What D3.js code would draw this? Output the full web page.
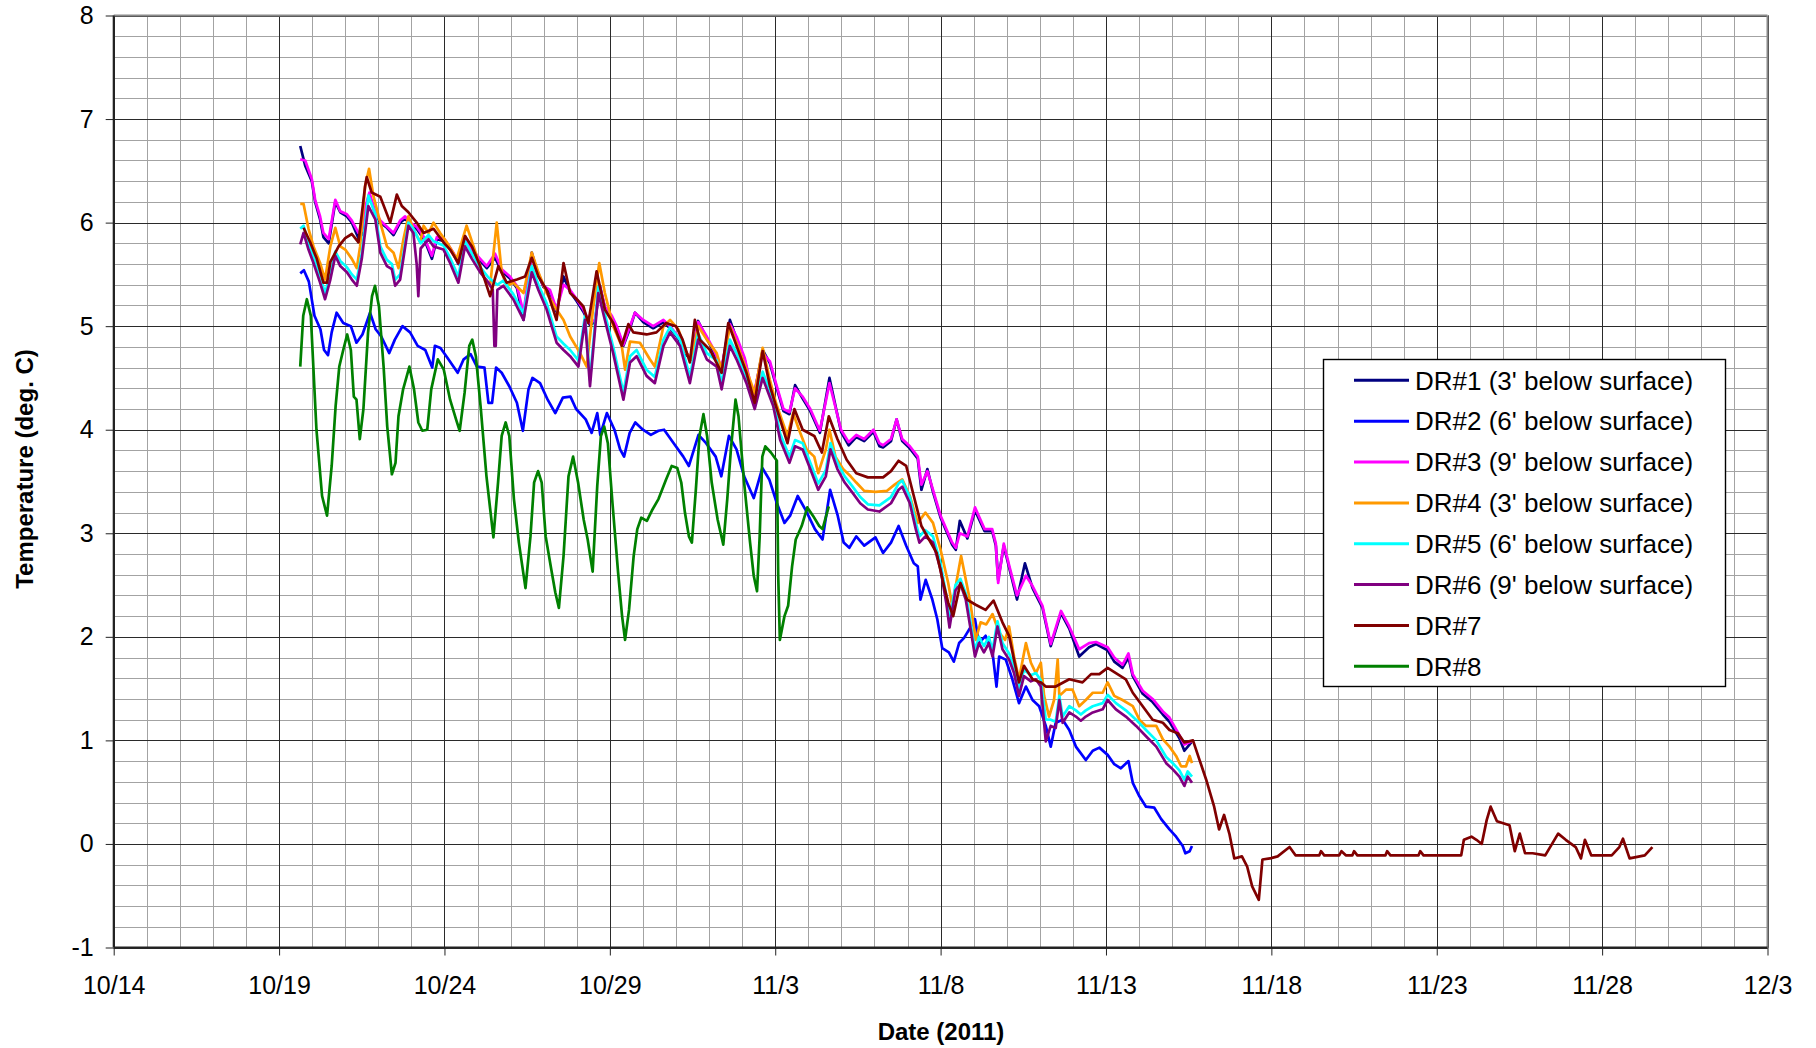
<!DOCTYPE html>
<html><head><meta charset="utf-8">
<script src="https://cdn.jsdelivr.net/npm/d3@7"></script>
<style>
html,body{margin:0;padding:0;background:#fff;}
svg{display:block;font-family:"Liberation Sans",Arial,Helvetica,sans-serif;}
</style>
</head><body>
<svg id="chart" width="1816" height="1048"></svg>
<script>
// ---------- DATA (time = day of October 2011; November d = 31 + d) ----------
const dr1 = [[19.64,6.74],[19.79,6.55],[19.99,6.4],[20.09,6.2],[20.24,6.03],[20.34,5.86],[20.5,5.8],[20.7,6.2],[20.85,6.1],[21.05,6.06],[21.2,6.0],[21.4,5.85],[21.5,5.88],[21.6,6.12],[21.73,6.27],[21.91,6.08],[22.06,6.0],[22.26,5.95],[22.46,5.88],[22.66,6.0],[22.81,6.04],[22.96,5.98],[23.16,5.94],[23.4,5.83],[23.62,5.65],[23.77,5.84],[24.0,5.82],[24.27,5.7],[24.42,5.6],[24.62,5.87],[24.83,5.73],[25.08,5.63],[25.28,5.56],[25.53,5.66],[25.73,5.53],[25.98,5.46],[26.19,5.37],[26.39,5.06],[26.64,5.71],[26.79,5.54],[26.99,5.38],[27.19,5.33],[27.39,5.14],[27.6,5.48],[27.8,5.33],[28.0,5.24],[28.2,5.14],[28.4,5.01],[28.55,5.04],[28.7,5.39],[28.85,5.18],[29.06,5.08],[29.21,4.98],[29.41,4.81],[29.61,4.98],[29.76,5.13],[30.01,5.04],[30.31,4.98],[30.62,5.04],[30.82,4.98],[31.07,4.88],[31.32,4.72],[31.47,4.68],[31.67,5.05],[31.93,4.88],[32.13,4.76],[32.38,4.58],[32.63,5.06],[32.83,4.88],[33.08,4.67],[33.34,4.29],[33.62,4.77],[33.84,4.64],[34.02,4.43],[34.25,4.18],[34.43,4.15],[34.6,4.43],[34.83,4.3],[35.06,4.18],[35.35,3.97],[35.64,4.5],[35.99,3.98],[36.22,3.85],[36.45,3.93],[36.69,3.89],[36.97,3.98],[37.15,3.84],[37.26,3.83],[37.5,3.89],[37.67,4.1],[37.84,3.89],[38.07,3.82],[38.31,3.72],[38.42,3.42],[38.6,3.62],[38.77,3.4],[39.0,3.15],[39.35,2.89],[39.46,2.84],[39.58,3.12],[39.81,2.95],[40.04,3.22],[40.33,3.02],[40.56,3.02],[40.67,2.88],[40.74,2.55],[40.91,2.88],[41.08,2.66],[41.31,2.36],[41.55,2.71],[41.78,2.47],[42.08,2.28],[42.33,1.91],[42.64,2.23],[42.89,2.08],[43.19,1.81],[43.49,1.9],[43.7,1.93],[44.05,1.87],[44.25,1.76],[44.5,1.7],[44.68,1.8],[44.81,1.62],[45.11,1.45],[45.41,1.37],[45.72,1.25],[45.92,1.18],[46.22,1.02],[46.37,0.9],[46.58,0.98]];

const dr2 = [[19.64,5.51],[19.75,5.54],[19.9,5.43],[20.07,5.1],[20.25,4.97],[20.36,4.77],[20.48,4.72],[20.59,4.94],[20.74,5.13],[20.94,5.03],[21.17,5.0],[21.34,4.84],[21.52,4.92],[21.75,5.13],[21.92,4.97],[22.09,4.9],[22.33,4.74],[22.5,4.87],[22.73,5.0],[22.96,4.94],[23.19,4.81],[23.42,4.77],[23.63,4.6],[23.71,4.81],[23.88,4.79],[24.12,4.68],[24.4,4.55],[24.58,4.68],[24.79,4.73],[24.98,4.61],[25.21,4.6],[25.33,4.26],[25.44,4.26],[25.56,4.6],[25.73,4.55],[25.96,4.42],[26.19,4.26],[26.37,3.99],[26.54,4.39],[26.66,4.5],[26.89,4.45],[27.12,4.29],[27.35,4.16],[27.58,4.31],[27.81,4.32],[27.98,4.2],[28.27,4.1],[28.45,3.97],[28.62,4.16],[28.71,3.95],[28.91,4.16],[29.14,4.0],[29.31,3.81],[29.43,3.74],[29.6,3.97],[29.77,4.07],[30.0,4.0],[30.24,3.95],[30.47,3.99],[30.64,4.0],[30.93,3.87],[31.22,3.74],[31.39,3.65],[31.68,3.95],[31.91,3.87],[32.2,3.74],[32.37,3.55],[32.6,3.94],[32.83,3.81],[33.06,3.55],[33.35,3.34],[33.61,3.63],[33.82,3.52],[34.05,3.29],[34.28,3.1],[34.45,3.17],[34.68,3.36],[34.91,3.23],[35.2,3.04],[35.43,2.94],[35.66,3.42],[35.89,3.17],[36.07,2.91],[36.24,2.86],[36.45,2.97],[36.69,2.88],[37.03,2.96],[37.26,2.81],[37.5,2.91],[37.73,3.07],[37.96,2.88],[38.19,2.71],[38.31,2.68],[38.39,2.36],[38.55,2.55],[38.75,2.36],[38.9,2.17],[39.05,1.89],[39.25,1.85],[39.4,1.76],[39.56,1.94],[39.71,1.99],[39.86,2.07],[40.04,2.17],[40.16,1.94],[40.36,2.01],[40.57,1.85],[40.69,1.52],[40.77,1.81],[40.97,1.78],[41.17,1.59],[41.37,1.36],[41.58,1.52],[41.78,1.39],[41.98,1.33],[42.18,1.14],[42.33,0.94],[42.48,1.17],[42.69,1.2],[42.89,1.1],[43.09,0.94],[43.39,0.81],[43.6,0.9],[43.8,0.93],[44.05,0.86],[44.25,0.77],[44.45,0.73],[44.68,0.8],[44.81,0.59],[45.01,0.46],[45.21,0.36],[45.46,0.35],[45.67,0.24],[45.92,0.14],[46.12,0.07],[46.32,-0.02],[46.4,-0.09],[46.53,-0.07],[46.6,-0.02]];

const dr3 = [[19.64,6.61],[19.79,6.6],[19.99,6.42],[20.09,6.22],[20.24,6.06],[20.34,5.9],[20.5,5.84],[20.7,6.22],[20.85,6.11],[21.05,6.08],[21.2,6.02],[21.4,5.9],[21.5,5.92],[21.6,6.14],[21.73,6.29],[21.91,6.1],[22.06,6.02],[22.26,5.96],[22.46,5.9],[22.66,6.02],[22.81,6.06],[22.96,6.0],[23.16,5.96],[23.4,5.85],[23.62,5.68],[23.77,5.86],[24.0,5.84],[24.27,5.71],[24.42,5.61],[24.62,5.86],[24.83,5.74],[25.08,5.65],[25.28,5.58],[25.53,5.7],[25.73,5.55],[25.98,5.48],[26.19,5.39],[26.39,5.13],[26.64,5.7],[26.79,5.55],[26.99,5.39],[27.19,5.35],[27.39,5.16],[27.6,5.4],[27.8,5.35],[28.0,5.26],[28.2,5.16],[28.4,5.03],[28.55,5.06],[28.7,5.38],[28.85,5.19],[29.06,5.1],[29.21,5.0],[29.41,4.82],[29.61,5.0],[29.76,5.13],[30.01,5.06],[30.31,5.0],[30.62,5.06],[30.82,5.0],[31.07,4.9],[31.32,4.74],[31.47,4.69],[31.67,5.04],[31.93,4.9],[32.13,4.78],[32.38,4.6],[32.63,5.02],[32.83,4.9],[33.08,4.69],[33.34,4.32],[33.62,4.74],[33.84,4.66],[34.02,4.45],[34.25,4.2],[34.43,4.17],[34.6,4.4],[34.83,4.32],[35.06,4.2],[35.35,3.99],[35.64,4.45],[35.99,4.0],[36.22,3.88],[36.45,3.95],[36.69,3.91],[36.97,4.0],[37.15,3.87],[37.26,3.85],[37.5,3.91],[37.67,4.1],[37.84,3.91],[38.07,3.84],[38.31,3.74],[38.42,3.47],[38.6,3.6],[38.77,3.42],[39.0,3.17],[39.35,2.91],[39.46,2.86],[39.58,3.0],[39.81,2.97],[40.04,3.25],[40.33,3.04],[40.56,3.04],[40.67,2.9],[40.74,2.52],[40.91,2.9],[41.08,2.68],[41.31,2.4],[41.58,2.59],[41.78,2.49],[42.08,2.3],[42.33,1.93],[42.64,2.25],[42.89,2.1],[43.19,1.88],[43.49,1.94],[43.7,1.95],[44.05,1.9],[44.25,1.8],[44.5,1.73],[44.68,1.84],[44.81,1.64],[45.11,1.48],[45.41,1.4],[45.72,1.28],[45.92,1.22],[46.22,1.05],[46.37,0.96],[46.58,0.99]];

const dr4 = [[19.64,6.18],[19.74,6.18],[19.89,5.94],[20.04,5.77],[20.24,5.61],[20.39,5.45],[20.55,5.77],[20.7,5.95],[20.85,5.77],[21.0,5.74],[21.2,5.65],[21.35,5.56],[21.45,5.77],[21.6,6.35],[21.72,6.52],[21.85,6.26],[22.06,6.0],[22.26,5.77],[22.46,5.71],[22.61,5.56],[22.76,5.84],[22.91,6.06],[23.06,5.94],[23.27,5.81],[23.37,5.97],[23.52,5.9],[23.67,6.0],[23.87,5.9],[24.07,5.81],[24.37,5.65],[24.67,5.97],[24.88,5.77],[25.18,5.48],[25.38,5.39],[25.58,6.0],[25.73,5.52],[25.88,5.39],[26.08,5.42],[26.39,5.32],[26.64,5.71],[26.84,5.52],[27.09,5.32],[27.39,5.16],[27.6,5.06],[27.8,4.9],[28.1,4.74],[28.3,4.61],[28.5,5.19],[28.68,5.61],[28.85,5.32],[29.1,5.0],[29.36,4.81],[29.46,4.58],[29.61,4.85],[29.91,4.84],[30.21,4.68],[30.36,4.61],[30.62,5.0],[30.82,5.06],[31.07,4.97],[31.32,4.74],[31.47,4.68],[31.67,5.0],[31.93,4.87],[32.23,4.74],[32.38,4.58],[32.63,5.0],[32.83,4.84],[33.13,4.58],[33.38,4.35],[33.62,4.79],[33.84,4.48],[34.02,4.26],[34.37,3.94],[34.54,4.16],[34.72,4.0],[34.95,3.81],[35.18,3.74],[35.3,3.58],[35.53,3.81],[35.64,4.0],[35.82,3.74],[36.05,3.62],[36.28,3.55],[36.45,3.49],[36.69,3.41],[37.03,3.4],[37.38,3.41],[37.61,3.47],[37.84,3.52],[38.07,3.36],[38.31,3.1],[38.54,3.2],[38.77,3.1],[39.0,2.84],[39.23,2.52],[39.35,2.3],[39.62,2.78],[39.8,2.49],[39.9,2.33],[40.06,1.97],[40.21,2.14],[40.38,2.12],[40.57,2.22],[40.77,2.04],[40.95,1.97],[41.07,2.1],[41.22,1.81],[41.37,1.59],[41.58,1.94],[41.73,1.75],[41.88,1.65],[42.03,1.75],[42.13,1.43],[42.28,1.23],[42.43,1.39],[42.54,1.78],[42.59,1.43],[42.79,1.49],[42.99,1.49],[43.19,1.33],[43.39,1.39],[43.6,1.46],[43.9,1.46],[44.05,1.56],[44.25,1.43],[44.5,1.39],[44.81,1.33],[45.01,1.2],[45.21,1.14],[45.52,1.14],[45.72,1.01],[45.92,0.94],[46.12,0.85],[46.27,0.75],[46.42,0.75],[46.53,0.85],[46.6,0.78]];

const dr5 = [[19.64,5.94],[19.74,5.97],[19.89,5.8],[20.04,5.67],[20.24,5.48],[20.39,5.32],[20.55,5.5],[20.7,5.72],[20.85,5.63],[21.05,5.57],[21.2,5.5],[21.35,5.45],[21.5,5.7],[21.7,6.26],[21.91,6.08],[22.06,5.77],[22.26,5.64],[22.41,5.6],[22.51,5.45],[22.66,5.5],[22.91,6.0],[23.06,5.94],[23.28,5.8],[23.52,5.88],[23.67,5.82],[23.97,5.78],[24.17,5.66],[24.42,5.48],[24.62,5.82],[24.83,5.7],[25.08,5.57],[25.33,5.47],[25.6,5.4],[25.78,5.44],[26.08,5.31],[26.39,5.12],[26.64,5.58],[26.84,5.4],[27.09,5.22],[27.39,4.9],[27.6,4.83],[27.8,4.77],[28.05,4.67],[28.25,5.1],[28.4,4.48],[28.65,5.38],[28.85,5.12],[29.1,4.8],[29.41,4.36],[29.61,4.71],[29.81,4.77],[30.11,4.58],[30.36,4.51],[30.62,4.87],[30.82,4.99],[31.12,4.87],[31.42,4.51],[31.67,4.93],[31.93,4.74],[32.23,4.67],[32.38,4.45],[32.63,4.87],[32.83,4.74],[33.13,4.51],[33.38,4.26],[33.62,4.56],[33.94,4.29],[34.15,3.96],[34.43,3.74],[34.6,3.9],[34.83,3.87],[35.06,3.68],[35.3,3.48],[35.53,3.61],[35.67,3.87],[35.88,3.68],[36.1,3.55],[36.34,3.45],[36.57,3.35],[36.8,3.28],[37.15,3.27],[37.5,3.35],[37.73,3.48],[37.84,3.51],[38.07,3.35],[38.25,3.1],[38.36,2.97],[38.54,3.03],[38.77,2.97],[39.0,2.71],[39.17,2.4],[39.27,2.16],[39.45,2.5],[39.6,2.56],[39.76,2.42],[39.91,2.13],[40.04,1.87],[40.16,2.0],[40.31,1.91],[40.46,2.0],[40.57,1.87],[40.72,2.15],[40.87,1.94],[41.07,1.84],[41.22,1.71],[41.37,1.49],[41.52,1.68],[41.73,1.63],[41.88,1.65],[42.03,1.58],[42.18,1.2],[42.33,1.2],[42.48,1.18],[42.59,1.43],[42.69,1.23],[42.89,1.33],[43.09,1.29],[43.24,1.25],[43.39,1.29],[43.6,1.33],[43.9,1.36],[44.05,1.44],[44.3,1.36],[44.6,1.29],[44.91,1.2],[45.21,1.1],[45.52,1.0],[45.82,0.84],[46.02,0.78],[46.22,0.71],[46.37,0.62],[46.47,0.7],[46.6,0.65]];

const dr6 = [[19.64,5.79],[19.74,5.9],[19.89,5.74],[20.04,5.61],[20.24,5.42],[20.39,5.26],[20.55,5.45],[20.7,5.68],[20.85,5.58],[21.05,5.52],[21.2,5.45],[21.35,5.39],[21.5,5.65],[21.7,6.16],[21.91,6.03],[22.06,5.71],[22.26,5.58],[22.41,5.55],[22.51,5.39],[22.66,5.45],[22.91,5.97],[23.06,5.9],[23.16,5.6],[23.21,5.29],[23.28,5.75],[23.52,5.84],[23.67,5.77],[23.97,5.74],[24.17,5.61],[24.42,5.42],[24.62,5.77],[24.83,5.65],[25.08,5.52],[25.33,5.42],[25.46,5.35],[25.51,4.81],[25.55,4.81],[25.6,5.35],[25.78,5.39],[26.08,5.26],[26.39,5.06],[26.64,5.52],[26.84,5.35],[27.09,5.16],[27.39,4.84],[27.6,4.77],[27.8,4.71],[28.05,4.61],[28.25,5.06],[28.4,4.42],[28.65,5.32],[28.85,5.06],[29.1,4.74],[29.41,4.29],[29.61,4.65],[29.81,4.71],[30.11,4.52],[30.36,4.45],[30.62,4.81],[30.82,4.94],[31.12,4.81],[31.42,4.45],[31.67,4.87],[31.93,4.68],[32.23,4.61],[32.38,4.39],[32.63,4.81],[32.83,4.68],[33.13,4.45],[33.38,4.2],[33.62,4.5],[33.94,4.23],[34.15,3.9],[34.43,3.68],[34.6,3.84],[34.83,3.81],[35.06,3.62],[35.3,3.42],[35.53,3.55],[35.67,3.81],[35.88,3.62],[36.1,3.49],[36.34,3.39],[36.57,3.29],[36.8,3.23],[37.15,3.21],[37.5,3.29],[37.73,3.42],[37.84,3.45],[38.07,3.29],[38.25,3.04],[38.36,2.91],[38.54,2.97],[38.77,2.91],[39.0,2.65],[39.17,2.33],[39.27,2.09],[39.45,2.45],[39.6,2.51],[39.76,2.36],[39.91,2.07],[40.04,1.81],[40.16,1.94],[40.31,1.85],[40.46,1.94],[40.57,1.81],[40.72,2.1],[40.87,1.88],[41.07,1.78],[41.22,1.65],[41.37,1.43],[41.52,1.62],[41.73,1.57],[41.88,1.59],[42.03,1.52],[42.18,0.99],[42.33,1.14],[42.48,1.12],[42.59,1.39],[42.69,1.17],[42.89,1.27],[43.09,1.23],[43.24,1.19],[43.39,1.23],[43.6,1.27],[43.9,1.3],[44.05,1.39],[44.3,1.3],[44.6,1.23],[44.91,1.14],[45.21,1.04],[45.52,0.94],[45.82,0.78],[46.02,0.72],[46.22,0.65],[46.37,0.56],[46.47,0.65],[46.6,0.59]];

const dr7 = [[19.74,5.95],[19.94,5.81],[20.14,5.65],[20.34,5.42],[20.45,5.42],[20.55,5.62],[20.8,5.77],[21.0,5.85],[21.2,5.89],[21.4,5.81],[21.6,6.35],[21.65,6.44],[21.8,6.29],[22.06,6.25],[22.36,6.0],[22.56,6.27],[22.71,6.16],[22.91,6.1],[23.16,6.0],[23.37,5.9],[23.67,5.94],[23.97,5.81],[24.17,5.74],[24.42,5.61],[24.62,5.87],[24.83,5.77],[25.08,5.58],[25.38,5.29],[25.63,5.58],[25.88,5.42],[26.19,5.45],[26.44,5.48],[26.64,5.66],[26.84,5.48],[27.09,5.35],[27.39,5.06],[27.6,5.61],[27.8,5.32],[28.0,5.26],[28.2,5.19],[28.35,5.03],[28.6,5.53],[28.85,5.16],[29.1,5.03],[29.36,4.81],[29.56,5.02],[29.71,4.94],[30.11,4.92],[30.41,4.94],[30.7,5.03],[31.0,5.0],[31.2,4.87],[31.42,4.65],[31.57,5.06],[31.72,4.87],[32.03,4.77],[32.38,4.55],[32.58,5.03],[32.83,4.81],[33.13,4.55],[33.38,4.26],[33.62,4.76],[33.84,4.42],[34.02,4.23],[34.37,3.87],[34.58,4.2],[34.83,4.0],[35.18,3.94],[35.41,3.78],[35.62,4.13],[35.88,3.91],[36.16,3.71],[36.45,3.58],[36.8,3.54],[37.26,3.54],[37.5,3.6],[37.73,3.7],[37.96,3.65],[38.19,3.36],[38.42,3.07],[38.65,2.94],[38.88,2.81],[39.06,2.55],[39.23,2.33],[39.38,2.2],[39.6,2.52],[39.8,2.36],[40.06,2.31],[40.36,2.26],[40.6,2.35],[40.87,2.14],[41.07,2.01],[41.22,1.78],[41.37,1.56],[41.52,1.72],[41.78,1.59],[42.03,1.56],[42.18,1.52],[42.48,1.52],[42.89,1.59],[43.29,1.56],[43.55,1.64],[43.8,1.64],[44.05,1.7],[44.3,1.65],[44.6,1.59],[44.81,1.46],[45.11,1.33],[45.41,1.2],[45.72,1.17],[45.92,1.1],[46.17,1.07],[46.37,0.98],[46.63,1.0],[46.83,0.81],[47.03,0.62],[47.27,0.36],[47.42,0.14],[47.57,0.28],[47.73,0.1],[47.88,-0.14],[48.11,-0.12],[48.27,-0.22],[48.42,-0.41],[48.62,-0.54],[48.73,-0.15],[48.96,-0.14],[49.19,-0.12],[49.55,-0.03],[49.73,-0.11],[50.45,-0.11],[50.5,-0.07],[50.6,-0.11],[51.05,-0.11],[51.12,-0.07],[51.25,-0.11],[51.45,-0.11],[51.5,-0.07],[51.6,-0.11],[52.45,-0.11],[52.5,-0.07],[52.6,-0.11],[53.45,-0.11],[53.5,-0.07],[53.6,-0.11],[54.74,-0.11],[54.82,0.04],[55.05,0.07],[55.2,0.04],[55.36,0.0],[55.51,0.23],[55.63,0.36],[55.82,0.22],[56.2,0.18],[56.36,-0.07],[56.51,0.1],[56.67,-0.09],[56.9,-0.09],[57.28,-0.11],[57.67,0.1],[57.9,0.04],[58.2,-0.03],[58.36,-0.14],[58.48,0.04],[58.67,-0.11],[59.29,-0.11],[59.52,-0.03],[59.63,0.05],[59.83,-0.14],[60.29,-0.11],[60.52,-0.03]];

const dr8 = [[19.64,4.61],[19.73,5.1],[19.84,5.26],[19.96,5.1],[20.13,4.0],[20.3,3.36],[20.45,3.17],[20.59,3.65],[20.71,4.23],[20.82,4.61],[20.94,4.77],[21.06,4.92],[21.17,4.77],[21.26,4.32],[21.34,4.29],[21.44,3.91],[21.55,4.2],[21.69,4.94],[21.81,5.29],[21.9,5.39],[22.02,5.19],[22.16,4.61],[22.27,4.03],[22.41,3.57],[22.52,3.68],[22.61,4.13],[22.75,4.39],[22.94,4.61],[23.08,4.39],[23.21,4.07],[23.33,3.99],[23.48,4.0],[23.6,4.39],[23.8,4.68],[23.98,4.58],[24.17,4.29],[24.35,4.1],[24.46,3.99],[24.61,4.36],[24.75,4.81],[24.84,4.87],[24.95,4.71],[25.1,4.2],[25.27,3.55],[25.48,2.96],[25.62,3.49],[25.73,3.94],[25.85,4.07],[25.96,3.94],[26.1,3.33],[26.25,2.91],[26.45,2.47],[26.6,2.97],[26.71,3.49],[26.83,3.6],[26.94,3.49],[27.06,2.97],[27.23,2.65],[27.35,2.43],[27.46,2.28],[27.6,2.78],[27.75,3.55],[27.89,3.74],[28.04,3.49],[28.21,3.13],[28.33,2.94],[28.48,2.63],[28.62,3.46],[28.73,3.94],[28.83,4.03],[28.94,3.87],[29.08,3.29],[29.25,2.62],[29.37,2.2],[29.46,1.97],[29.58,2.26],[29.72,2.78],[29.83,3.04],[29.95,3.15],[30.12,3.12],[30.29,3.23],[30.47,3.33],[30.58,3.42],[30.7,3.52],[30.87,3.65],[31.04,3.63],[31.16,3.49],[31.27,3.2],[31.39,2.97],[31.48,2.91],[31.6,3.42],[31.71,3.94],[31.83,4.15],[31.94,3.94],[32.08,3.49],[32.26,3.13],[32.43,2.89],[32.55,3.33],[32.66,3.81],[32.8,4.29],[32.89,4.13],[33.06,3.49],[33.24,2.91],[33.35,2.59],[33.45,2.44],[33.53,2.97],[33.61,3.74],[33.7,3.84],[33.87,3.78],[34.05,3.7],[34.09,2.6],[34.14,1.97],[34.28,2.2],[34.39,2.3],[34.51,2.68],[34.62,2.94],[34.8,3.07],[34.97,3.25],[35.14,3.17],[35.33,3.07],[35.43,3.04],[35.62,3.26]];

const seriesNames = ["DR#1 (3' below surface)","DR#2 (6' below surface)","DR#3 (9' below surface)","DR#4 (3' below surface)","DR#5 (6' below surface)","DR#6 (9' below surface)","DR#7","DR#8"];
const seriesData = [dr1, dr2, dr3, dr4, dr5, dr6, dr7, dr8];
const seriesColors = ["#000080","#0000FF","#FF00FF","#FF9900","#00FFFF","#800080","#800000","#008000"];

const xTickLabels = ["10/14","10/19","10/24","10/29","11/3","11/8","11/13","11/18","11/23","11/28","12/3"];
const yTickLabels = ["-1","0","1","2","3","4","5","6","7","8"];
const xTitle = "Date (2011)";
const yTitle = "Temperature (deg. C)";

// ---------- LAYOUT ----------
const P = {left:113.7, right:1767.5, top:15.5, bottom:947.5};
const dayMs = 864e5;
const toDate = t => new Date(Date.UTC(2011, 9, 1) + (t - 1) * dayMs);
const labelDate = s => { const [m, d] = s.split("/").map(Number); return new Date(Date.UTC(2011, m - 1, d)); };
const xTickDates = xTickLabels.map(labelDate);
const yTickValues = yTickLabels.map(Number);

const x = d3.scaleUtc().domain([xTickDates[0], xTickDates[xTickDates.length - 1]]).range([P.left, P.right]);
const y = d3.scaleLinear().domain([yTickValues[0], yTickValues[yTickValues.length - 1]]).range([P.bottom, P.top]);
const crisp = v => Math.round(v) + 0.5;

const svg = d3.select("#chart");
svg.append("rect").attr("width", 1816).attr("height", 1048).attr("fill", "#fff");

const grid = svg.append("g");
// minor vertical (daily)
const minorDays = d3.utcDay.range(xTickDates[0], new Date(+xTickDates[xTickDates.length - 1] + 1));
grid.selectAll("line.vmin").data(minorDays).join("line")
  .attr("x1", d => crisp(x(d))).attr("x2", d => crisp(x(d)))
  .attr("y1", P.top).attr("y2", P.bottom)
  .attr("stroke", "#a3a3a3").attr("stroke-width", 1);
// minor horizontal (0.2)
const minorY = d3.range(0, 46).map(i => yTickValues[0] + i * 0.2);
grid.selectAll("line.hmin").data(minorY).join("line")
  .attr("x1", P.left).attr("x2", P.right)
  .attr("y1", d => crisp(y(d))).attr("y2", d => crisp(y(d)))
  .attr("stroke", "#a3a3a3").attr("stroke-width", 1);
// major
grid.selectAll("line.vmaj").data(xTickDates).join("line")
  .attr("x1", d => crisp(x(d))).attr("x2", d => crisp(x(d)))
  .attr("y1", P.top).attr("y2", P.bottom)
  .attr("stroke", "#2a2a2a").attr("stroke-width", 1);
grid.selectAll("line.hmaj").data(yTickValues).join("line")
  .attr("x1", P.left).attr("x2", P.right)
  .attr("y1", d => crisp(y(d))).attr("y2", d => crisp(y(d)))
  .attr("stroke", "#2a2a2a").attr("stroke-width", 1);

// border: top/right gray, left/bottom dark
svg.append("line").attr("x1", P.left).attr("x2", P.right).attr("y1", P.top).attr("y2", P.top)
  .attr("stroke", "#8a8a8a").attr("stroke-width", 2);
svg.append("line").attr("x1", P.right).attr("x2", P.right).attr("y1", P.top).attr("y2", P.bottom)
  .attr("stroke", "#8a8a8a").attr("stroke-width", 2);

// series
const line = d3.line().x(d => x(toDate(d[0]))).y(d => y(d[1]));
const gSeries = svg.append("g");
seriesData.forEach((data, i) => {
  gSeries.append("path").datum(data)
    .attr("d", line)
    .attr("fill", "none")
    .attr("stroke", seriesColors[i])
    .attr("stroke-width", 2.7)
    .attr("stroke-linejoin", "round")
    .attr("stroke-linecap", "butt");
});

// axes
const xAxis = d3.axisBottom(x).tickValues(xTickDates)
  .tickFormat((d, i) => xTickLabels[i]).tickSize(8).tickPadding(21);
const gx = svg.append("g").attr("transform", `translate(0,${P.bottom})`).call(xAxis);
gx.select(".domain").attr("stroke", "#222").attr("stroke-width", 2).attr("d", `M${P.left},0H${P.right}`);
gx.selectAll(".tick line").attr("stroke", "#222");
gx.selectAll("text").attr("font-size", 25).attr("fill", "#000")
  .attr("font-family", '"Liberation Sans",Arial,sans-serif');

const yAxis = d3.axisLeft(y).tickValues(yTickValues).tickFormat((d, i) => yTickLabels[i]).tickSize(8).tickPadding(12);
const gy = svg.append("g").attr("transform", `translate(${P.left},0)`).call(yAxis);
gy.select(".domain").attr("stroke", "#222").attr("stroke-width", 2).attr("d", `M0,${P.top}V${P.bottom}`);
gy.selectAll(".tick line").attr("stroke", "#222");
gy.selectAll("text").attr("font-size", 25).attr("fill", "#000")
  .attr("font-family", '"Liberation Sans",Arial,sans-serif');

// titles
svg.append("text").attr("x", 941).attr("y", 1040).attr("text-anchor", "middle")
  .attr("font-size", 24).attr("font-weight", "bold").text(xTitle);
svg.append("text").attr("transform", "translate(33,469) rotate(-90)").attr("text-anchor", "middle")
  .attr("font-size", 24).attr("font-weight", "bold").text(yTitle);

// legend
const L = {x: 1323.5, y: 359.5, w: 402, h: 327, row0: 380.3, rowH: 40.86, lx1: 1354, lx2: 1409, tx: 1415};
const gl = svg.append("g");
gl.append("rect").attr("x", L.x).attr("y", L.y).attr("width", L.w).attr("height", L.h)
  .attr("fill", "#fff").attr("stroke", "#000").attr("stroke-width", 1.4);
seriesNames.forEach((name, i) => {
  const cy = L.row0 + i * L.rowH;
  gl.append("line").attr("x1", L.lx1).attr("x2", L.lx2).attr("y1", cy).attr("y2", cy)
    .attr("stroke", seriesColors[i]).attr("stroke-width", 3);
  gl.append("text").attr("x", L.tx).attr("y", cy + 9.3).attr("font-size", 26).attr("fill", "#000").text(name);
});
</script>
</body></html>
